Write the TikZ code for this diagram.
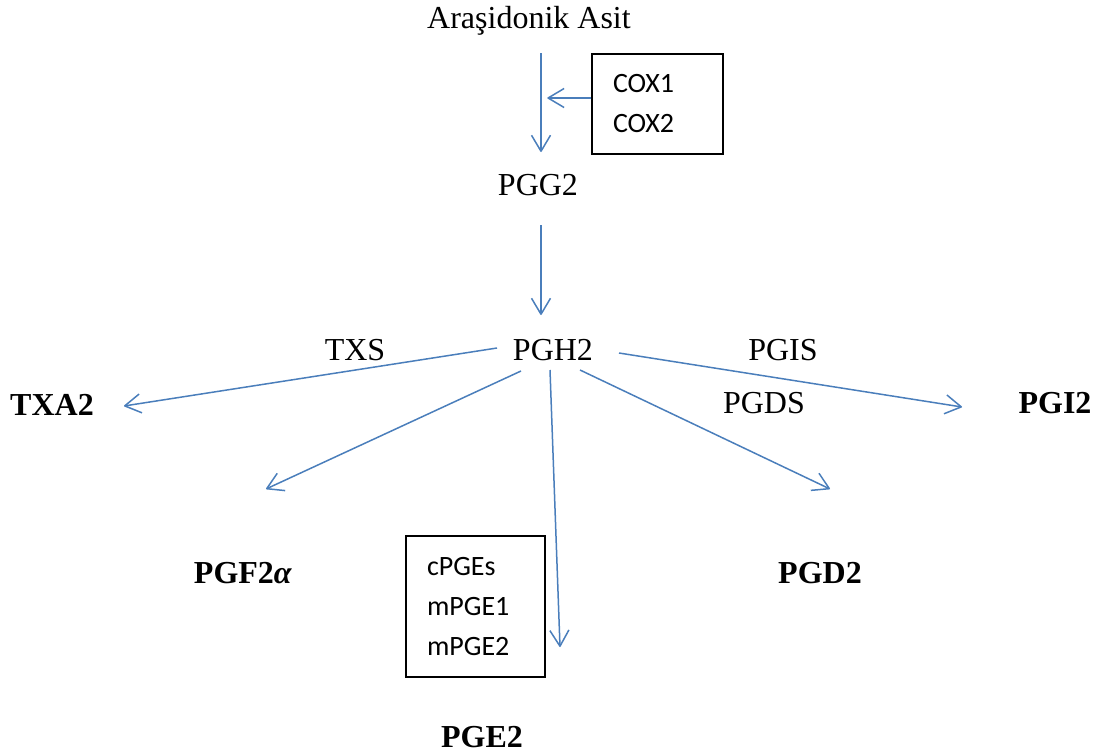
\documentclass[tikz,border=0pt]{standalone}
\usepackage{fontspec}
\usepackage{tikz}
\usetikzlibrary{arrows.meta}
\setmainfont{Liberation Serif}
\newfontfamily\boxfont{Carlito}
\definecolor{arrowblue}{RGB}{74,126,187}

\tikzset{
    plaintext/.style={inner sep=0pt,anchor=base,font=\fontsize{32}{38}\selectfont},
    product/.style={plaintext,font=\fontsize{32}{38}\selectfont\bfseries},
    enzymebox/.style={draw,line width=1.3pt,inner xsep=21pt,inner ysep=0pt,align=left,
        font=\fontsize{28}{40}\boxfont},
    arr/.style={draw=arrowblue,line width=1.5pt,line join=round,
        -{Straight Barb[length=16pt,width=19pt,line join=round]}}
}

\begin{document}
\begin{tikzpicture}[x=1pt,y=-1pt]
    \useasboundingbox (0,0) rectangle (1114,755);
    % substrates
    \node[plaintext] (aras) at (529,28) {Araşidonik Asit};
    \node[plaintext] (pgg2) at (538,195) {PGG2};
    \node[plaintext] (pgh2) at (553,360) {PGH2};
    % enzymes
    \node[enzymebox,text width=89pt,minimum height=100pt] (cox) at (657.5,104) {COX1\\COX2};
    \node[enzymebox,text width=97pt,minimum height=141pt] (pges) at (475.5,606.5) {cPGEs\\mPGE1\\mPGE2};
    \node[plaintext] (txs) at (355,360) {TXS};
    \node[plaintext] (pgis) at (783,360) {PGIS};
    \node[plaintext] (pgds) at (764,413) {PGDS};
    % products
    \node[product] (txa2) at (52,415) {TXA2};
    \node[product] (pgi2) at (1055,413) {PGI2};
    \node[product] (pgf2a) at (243,583) {PGF2\textit{α}};
    \node[product] (pgd2) at (820,583) {PGD2};
    \node[product] (pge2) at (482,747) {PGE2};

    \draw[arr] ([xshift=12pt,yshift=-25pt]aras.base) -- ([xshift=3pt,yshift=43pt]pgg2.base);
    \draw[arr] ([yshift=6pt]cox.west) -- ([xshift=-44pt,yshift=6pt]cox.west);
    \draw[arr] ([xshift=3pt,yshift=-30pt]pgg2.base) -- ([xshift=-12pt,yshift=45pt]pgh2.base);
    \draw[arr] ([xshift=-56pt,yshift=12pt]pgh2.base) -- ([xshift=72pt,yshift=9pt]txa2.base);
    \draw[arr] ([xshift=66pt,yshift=7pt]pgh2.base) -- ([xshift=-93pt,yshift=6pt]pgi2.base);
    \draw[arr] ([xshift=-32pt,yshift=-11pt]pgh2.base) -- ([xshift=23pt,yshift=94pt]pgf2a.base);
    \draw[arr] ([xshift=-3pt,yshift=-10pt]pgh2.base) -- ([xshift=78pt,yshift=100pt]pge2.base);
    \draw[arr] ([xshift=27pt,yshift=-10pt]pgh2.base) -- ([xshift=10pt,yshift=94pt]pgd2.base);
\end{tikzpicture}
\end{document}
